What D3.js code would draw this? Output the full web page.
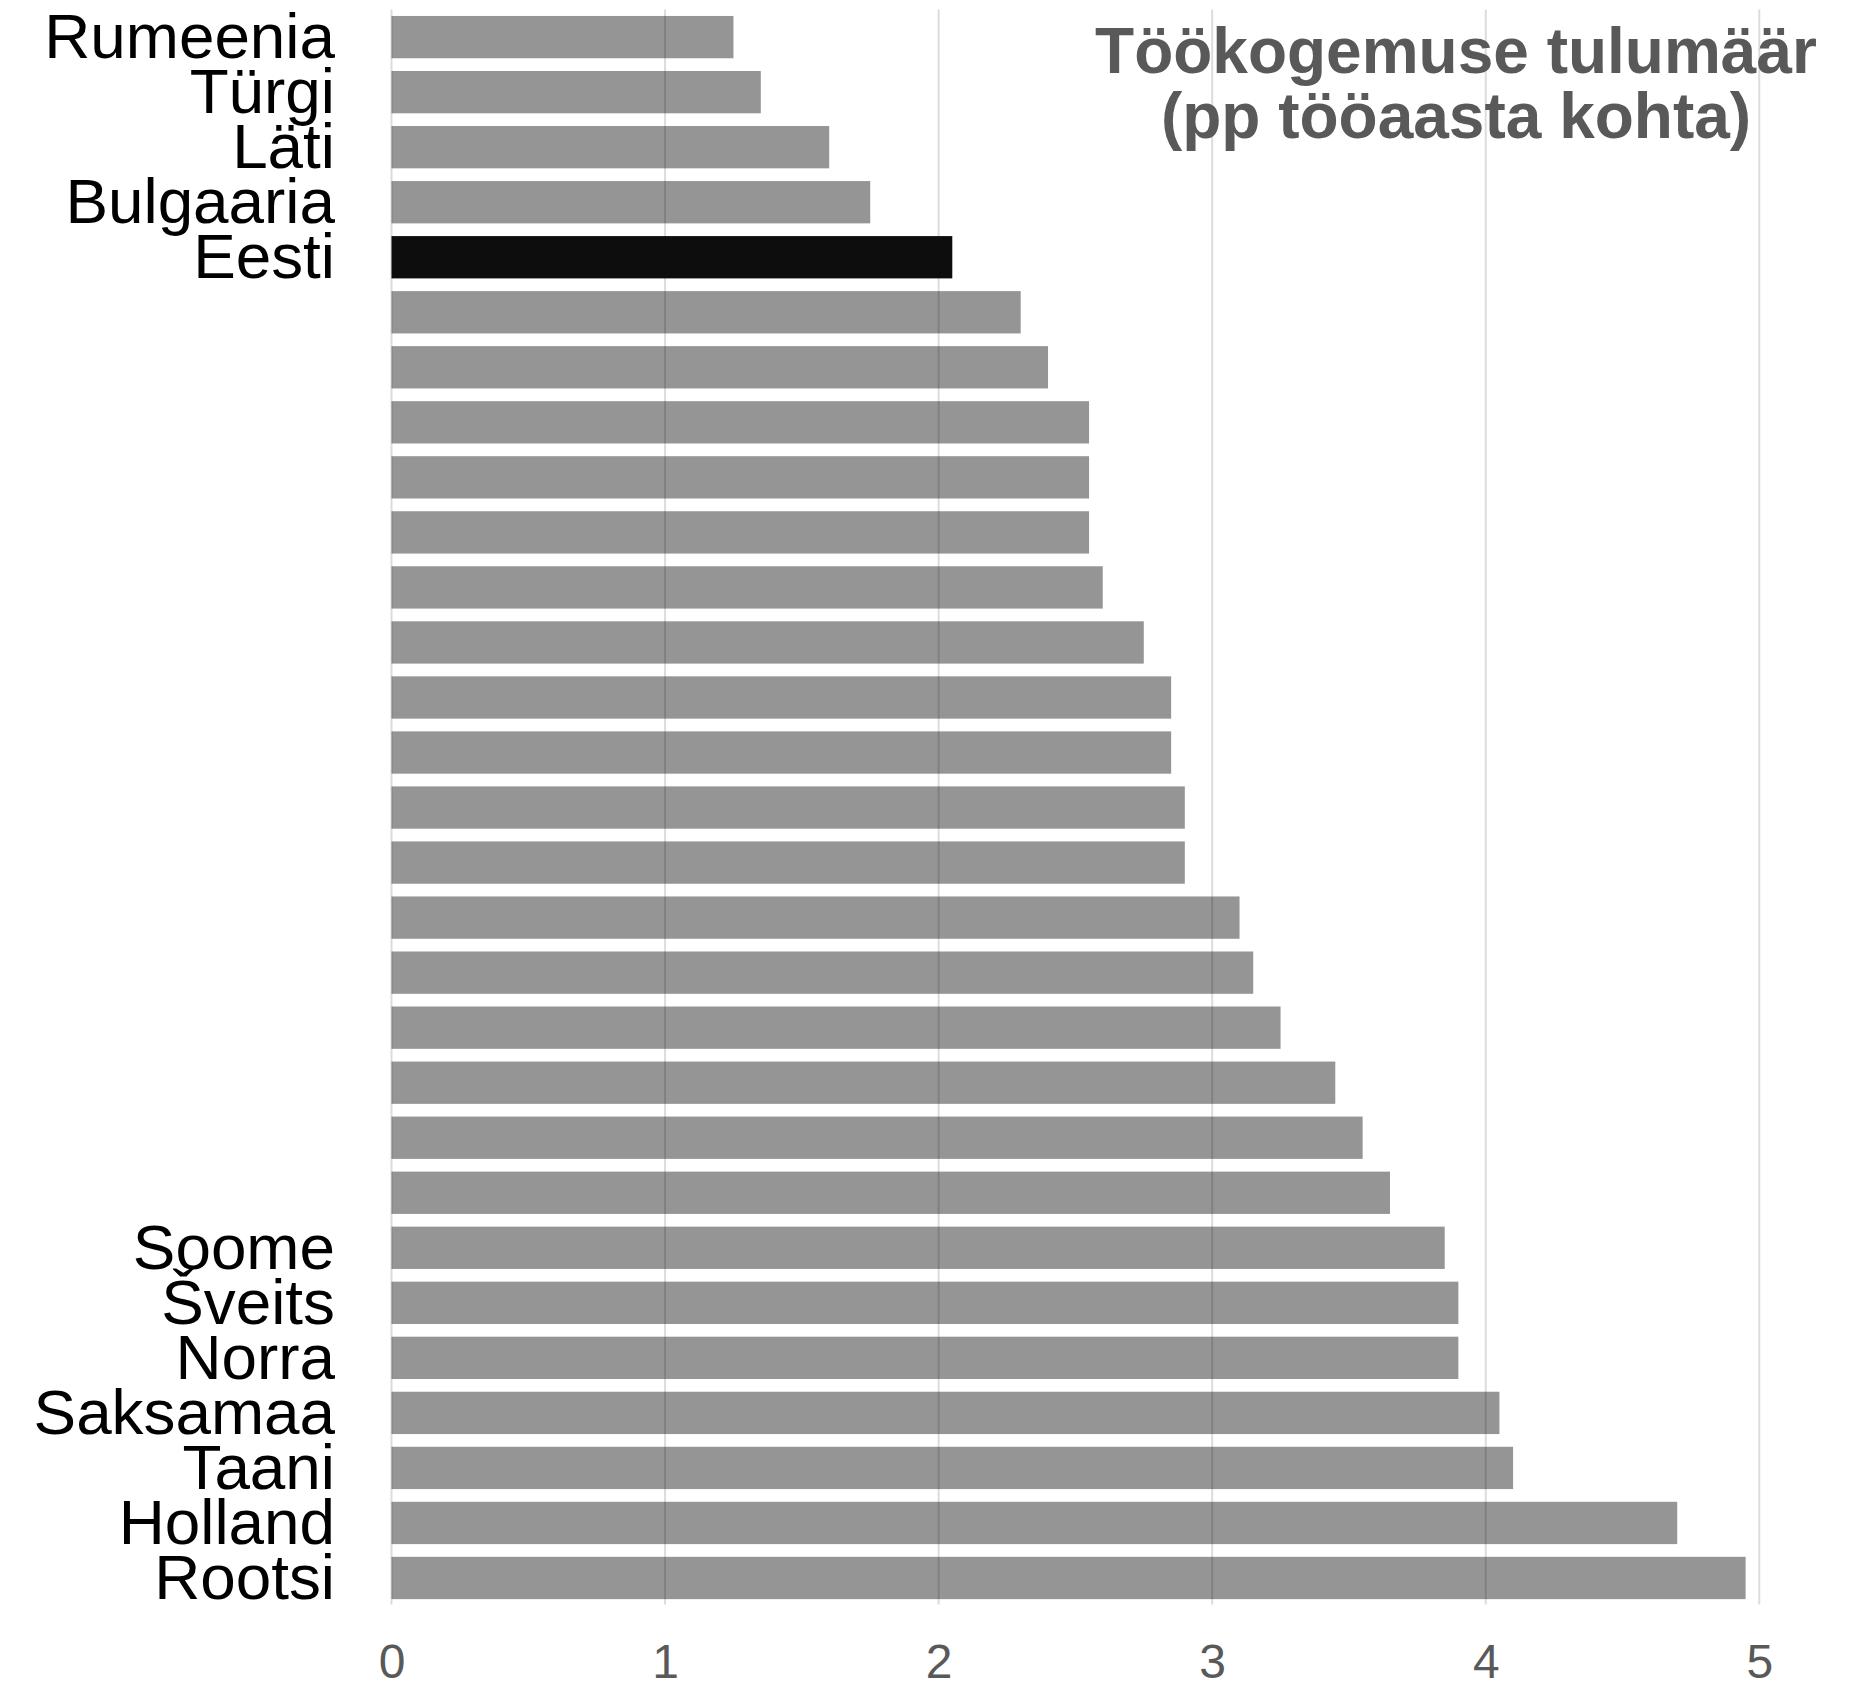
<!DOCTYPE html>
<html>
<head>
<meta charset="utf-8">
<script src="https://cdn.jsdelivr.net/npm/d3@7"></script>
<style>
  html, body { margin: 0; padding: 0; background: #ffffff; }
  svg { display: block; }
</style>
</head>
<body>
<svg id="chart" width="1872" height="1685"></svg>
<script>
// ---- data (top to bottom) ----
const countries = [
  "Rumeenia", "Türgi", "Läti", "Bulgaaria", "Eesti",
  "", "", "", "", "", "", "", "", "", "", "", "", "", "", "", "", "",
  "Soome", "Šveits", "Norra", "Saksamaa", "Taani", "Holland", "Rootsi"
];
const values = [
  1.25, 1.35, 1.60, 1.75, 2.05,
  2.30, 2.40, 2.55, 2.55, 2.55, 2.60, 2.75, 2.85, 2.85, 2.90, 2.90,
  3.10, 3.15, 3.25, 3.45, 3.55, 3.65,
  3.85, 3.90, 3.90, 4.05, 4.10, 4.70, 4.95
];
const highlight = "Eesti";
const xTicks = [0, 1, 2, 3, 4, 5];
const titleLines = ["Töökogemuse tulumäär", "(pp tööaasta kohta)"];

const rows = countries.map((c, i) => ({ idx: i, name: c, value: values[i] }));

// ---- layout ----
const svg = d3.select("#chart");
const font = "'Liberation Sans', Arial, Helvetica, sans-serif";

const x = d3.scaleLinear().domain([0, 5]).range([391.5, 1759.3]);
const y = d3.scaleBand()
  .domain(rows.map(d => d.idx))
  .range([9.6, 1605.5])
  .paddingInner(0.231)
  .paddingOuter(0.1155);

const [yTop, yBot] = [9.6, 1604.5];

// gridlines
svg.append("g").selectAll("line")
  .data(xTicks)
  .join("line")
  .attr("x1", d => x(d)).attr("x2", d => x(d))
  .attr("y1", yTop).attr("y2", yBot)
  .attr("stroke", "#dcdcdc")
  .attr("stroke-width", 2);

// bars
svg.append("g").selectAll("rect")
  .data(rows)
  .join("rect")
  .attr("x", x(0))
  .attr("y", d => y(d.idx))
  .attr("width", d => x(d.value) - x(0))
  .attr("height", y.bandwidth())
  .attr("fill", "#000")
  .attr("fill-opacity", d => d.name === highlight ? 0.95 : 0.415);

// y axis labels
const yAxis = d3.axisLeft(y)
  .tickSize(0)
  .tickPadding(0)
  .tickFormat(i => countries[i]);
const gy = svg.append("g")
  .attr("transform", "translate(335,0)")
  .call(yAxis);
gy.select(".domain").remove();
gy.selectAll("text")
  .attr("x", 0)
  .attr("dy", "0.33em")
  .attr("fill", "#000")
  .style("font-family", font)
  .style("font-size", "63.8px")
  .attr("text-anchor", "end");

// x axis labels
const xAxis = d3.axisBottom(x)
  .tickValues(xTicks)
  .tickSize(0)
  .tickFormat(d3.format("d"));
const gx = svg.append("g")
  .attr("transform", "translate(0,1677.5)")
  .call(xAxis);
gx.select(".domain").remove();
gx.selectAll("text")
  .attr("y", 0)
  .attr("dy", 0)
  .attr("fill", "#595959")
  .style("font-family", font)
  .style("font-size", "48px");

// title
svg.append("g").selectAll("text")
  .data(titleLines)
  .join("text")
  .attr("x", 1456)
  .attr("y", (d, i) => 72.7 + i * 65.6)
  .attr("text-anchor", "middle")
  .attr("fill", "#595959")
  .style("font-family", font)
  .style("font-weight", "bold")
  .style("font-size", "64px")
  .text(d => d);
</script>
</body>
</html>
